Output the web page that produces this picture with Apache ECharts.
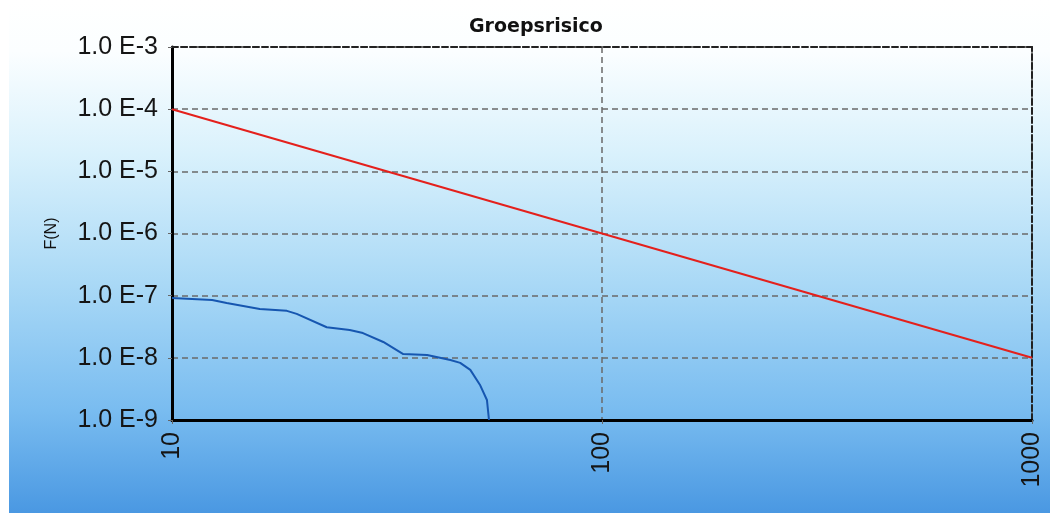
<!DOCTYPE html>
<html>
<head>
<meta charset="utf-8">
<script src="https://cdn.jsdelivr.net/npm/echarts@6/dist/echarts.min.js"></script>
<style>
  html, body { margin: 0; padding: 0; background: #fff; }
  #chart { width: 1050px; height: 513px; }
</style>
</head>
<body>
<div id="chart"></div>
<script>
// F(N) curve: [N, frequency]
const groupRisk = [
  [10, 9.2e-8], [12.4, 8.5e-8], [13.4, 7.6e-8], [16.0, 6.1e-8], [18.5, 5.7e-8],
  [19.5, 5.1e-8], [22.9, 3.1e-8], [25.9, 2.8e-8], [27.8, 2.5e-8], [31.0, 1.8e-8],
  [34.5, 1.15e-8], [39.2, 1.11e-8], [44.4, 9.2e-9], [46.8, 8.3e-9], [49.4, 6.4e-9],
  [52.0, 3.7e-9], [54.0, 2.1e-9], [54.6, 1.0e-9]
]
// orientatiewaarde
const guideLine = [[10, 1e-4], [1000, 1e-8]]
const xRange = [10, 1000]
const yRange = [1e-9, 1e-3]

const chart = echarts.init(document.getElementById('chart'))

const labelFont = { fontFamily: 'Liberation Sans', fontSize: 25, color: '#151515' }

const option = {
  animation: false,
  backgroundColor: new echarts.graphic.LinearGradient(0, 0, 0, 1, [
    { offset: 0, color: '#ffffff' },
    { offset: 0.1, color: '#fbfeff' },
    { offset: 0.3, color: '#d9f1fc' },
    { offset: 0.55, color: '#aad9f6' },
    { offset: 0.8, color: '#79bcf0' },
    { offset: 1, color: '#4a98e2' }
  ]),
  graphic: [
    { type: 'rect', left: 0, top: 0, shape: { width: 9, height: 513 }, style: { fill: '#ffffff' } }
  ],
  title: {
    text: 'Groepsrisico',
    left: 464,
    top: 13,
    textStyle: { fontFamily: 'DejaVu Sans', fontWeight: 'bold', fontSize: 19, color: '#111' }
  },
  grid: { left: 172, right: 18, top: 47, bottom: 93 },
  xAxis: [
    {
      type: 'log', logBase: 10, min: xRange[0], max: xRange[1],
      axisLine: { lineStyle: { color: '#000', width: 3 } },
      axisTick: { show: true, length: 4, lineStyle: { color: '#666' } },
      minorTick: { show: false },
      axisLabel: Object.assign({ rotate: 90, margin: 12, formatter: v => String(Math.round(v)) }, labelFont),
      splitLine: { show: true, lineStyle: { color: '#6a6a6a', type: [6, 4], width: 1.5 } }
    },
    {
      type: 'log', logBase: 10, min: xRange[0], max: xRange[1], position: 'top',
      axisLine: { lineStyle: { color: '#222', width: 2, type: [6, 3] } },
      axisTick: { show: false }, axisLabel: { show: false }, splitLine: { show: false }
    }
  ],
  yAxis: [
    {
      type: 'log', logBase: 10, min: yRange[0], max: yRange[1],
      name: 'F(N)', nameLocation: 'middle', nameRotate: 90, nameGap: 112,
      nameTextStyle: { fontFamily: 'Liberation Sans', fontSize: 16, color: '#111' },
      axisLine: { lineStyle: { color: '#000', width: 3 } },
      axisTick: { show: true, length: 4, lineStyle: { color: '#666' } },
      axisLabel: Object.assign({
        margin: 14,
        formatter: v => '1.0 E' + Math.round(Math.log10(v))
      }, labelFont),
      splitLine: { show: true, lineStyle: { color: '#6a6a6a', type: [6, 4], width: 1.5 } }
    },
    {
      type: 'log', logBase: 10, min: yRange[0], max: yRange[1], position: 'right',
      axisLine: { show: true, lineStyle: { color: '#222', width: 2, type: [6, 3] } },
      axisTick: { show: false }, axisLabel: { show: false }, splitLine: { show: false }
    }
  ],
  series: [
    {
      type: 'line', data: guideLine, symbol: 'none',
      lineStyle: { color: '#e4201c', width: 2 }
    },
    {
      type: 'line', data: groupRisk, symbol: 'none',
      lineStyle: { color: '#1656b0', width: 2 }
    }
  ]
}

chart.setOption(option)
</script>
</body>
</html>
